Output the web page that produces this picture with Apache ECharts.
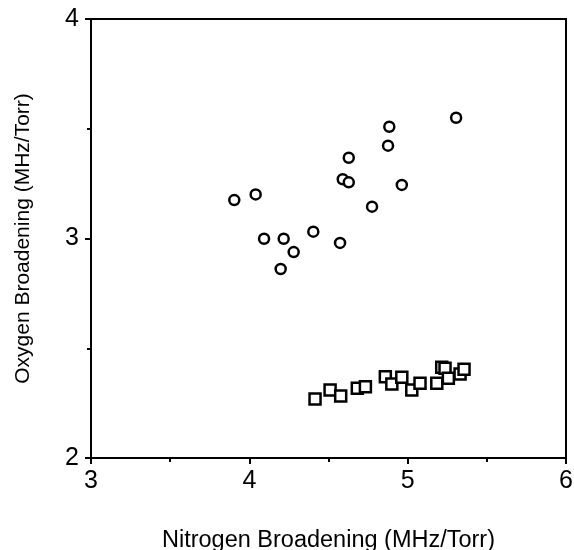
<!DOCTYPE html>
<html>
<head>
<meta charset="utf-8">
<script src="https://cdn.jsdelivr.net/npm/echarts@6/dist/echarts.min.js"></script>
<style>html,body{margin:0;padding:0;background:#fff}#c{width:574px;height:550px}</style>
</head>
<body>
<div id="c"></div>
<script>
// Circles series (nitrogen vs oxygen broadening)
var circleX = [3.905, 4.04, 4.093, 4.217, 4.28, 4.198, 4.404, 4.573, 4.59, 4.628, 4.628, 4.775, 4.876, 4.884, 4.963, 5.306];
var circleY = [3.175, 3.201, 2.999, 2.999, 2.938, 2.861, 3.031, 2.98, 3.27, 3.256, 3.368, 3.145, 3.423, 3.509, 3.244, 3.55];
// Squares series
var squareX = [4.415, 4.51, 4.577, 4.682, 4.733, 4.859, 4.9, 4.963, 5.026, 5.078, 5.184, 5.215, 5.236, 5.257, 5.331, 5.356];
var squareY = [2.269, 2.31, 2.282, 2.318, 2.325, 2.37, 2.337, 2.368, 2.31, 2.34, 2.34, 2.413, 2.409, 2.363, 2.383, 2.404];
var xTicks = [3, 4, 5, 6];
var yTicks = [2, 3, 4];
var xTitle = 'Nitrogen Broadening (MHz/Torr)';
var yTitle = 'Oxygen Broadening (MHz/Torr)';

function pairs(xs, ys) { return xs.map(function (x, i) { return [x, ys[i]]; }); }

var chart = echarts.init(document.getElementById('c'), null, { renderer: 'canvas' });
var font = '"Liberation Sans", Arial, Helvetica, sans-serif';
chart.setOption({
  animation: false,
  backgroundColor: '#fff',
  grid: { left: 91, right: 8, top: 19, bottom: 92, show: true, borderColor: '#000', borderWidth: 2, backgroundColor: 'transparent', containLabel: false, outerBoundsMode: 'none' },
  xAxis: {
    type: 'value', min: xTicks[0], max: xTicks[xTicks.length - 1], interval: 1,
    name: xTitle, nameLocation: 'middle', nameGap: 71,
    nameTextStyle: { fontFamily: font, fontSize: 23.5, color: '#000' },
    axisLine: { lineStyle: { color: '#000', width: 2 } },
    axisTick: { show: true, length: 6, lineStyle: { color: '#000', width: 2 } },
    minorTick: { show: true, splitNumber: 2, length: 4, lineStyle: { color: '#000', width: 2 } },
    axisLabel: { fontFamily: font, fontSize: 25, color: '#000', margin: 11 },
    splitLine: { show: false }
  },
  yAxis: {
    type: 'value', min: yTicks[0], max: yTicks[yTicks.length - 1], interval: 1,
    name: yTitle, nameLocation: 'middle', nameGap: 57,
    nameTextStyle: { fontFamily: font, fontSize: 21, color: '#000' },
    axisLine: { lineStyle: { color: '#000', width: 2 } },
    axisTick: { show: true, length: 6, lineStyle: { color: '#000', width: 2 } },
    minorTick: { show: true, splitNumber: 2, length: 4, lineStyle: { color: '#000', width: 2 } },
    axisLabel: { fontFamily: font, fontSize: 25, color: '#000', margin: 12 },
    splitLine: { show: false }
  },
  series: [
    {
      type: 'scatter', data: pairs(circleX, circleY), symbol: 'circle', symbolSize: 10,
      itemStyle: { color: '#fff', borderColor: '#000', borderWidth: 2.5, opacity: 1 }
    },
    {
      type: 'scatter', data: pairs(squareX, squareY), symbol: 'rect', symbolSize: 11,
      itemStyle: { color: '#fff', borderColor: '#000', borderWidth: 2.5, opacity: 1 }
    }
  ]
});
</script>
</body>
</html>
